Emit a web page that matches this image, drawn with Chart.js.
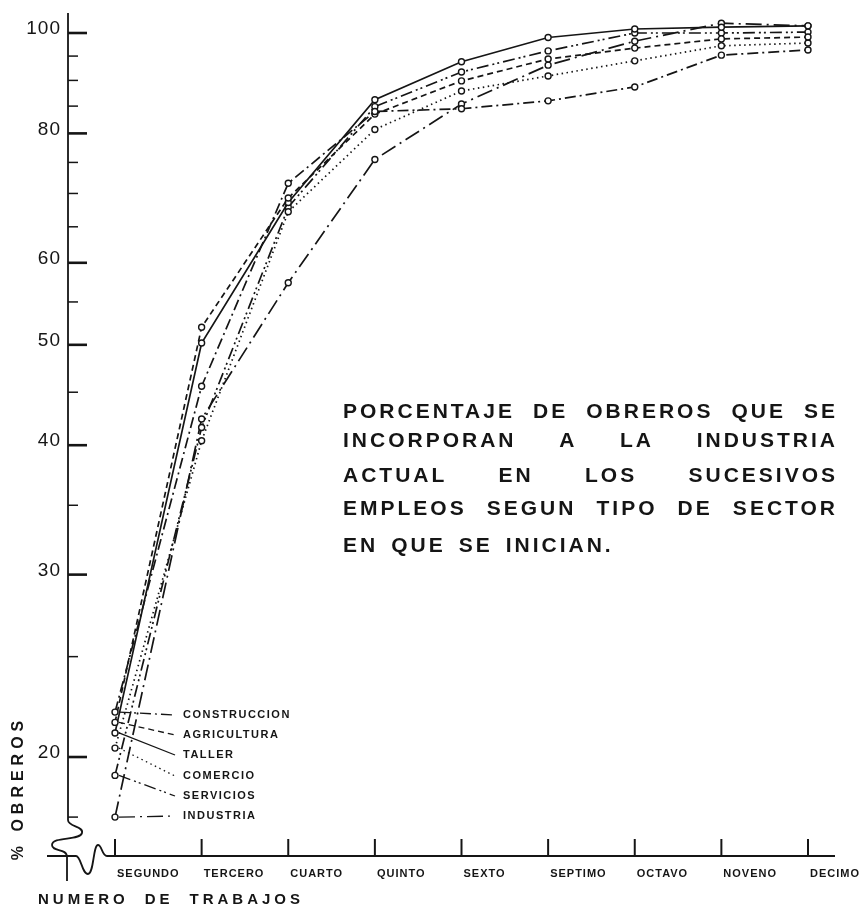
<!DOCTYPE html>
<html>
<head>
<meta charset="utf-8">
<script src="https://cdn.jsdelivr.net/npm/chart.js"></script>
<style>
  html, body { margin: 0; padding: 0; background: #fff; }
</style>
</head>
<body>
<canvas id="chart" width="864" height="911"></canvas>
<script>
// job number categories (x) and cumulative % of workers per starting sector
var trabajos = ['SEGUNDO', 'TERCERO', 'CUARTO', 'QUINTO', 'SEXTO', 'SEPTIMO', 'OCTAVO', 'NOVENO', 'DECIMO'];
var construccion = [22.1, 45.6, 71.6, 84.0, 84.5, 86.0, 88.7, 95.2, 96.3];
var agricultura  = [21.6, 52.0, 69.3, 83.5, 89.9, 94.4, 96.7, 98.7, 99.1];
var taller       = [21.1, 50.2, 68.6, 86.2, 93.8, 99.0, 100.9, 101.3, 101.6];
var comercio     = [20.4, 40.4, 67.2, 80.7, 87.9, 90.9, 94.0, 97.2, 97.8];
var servicios    = [19.2, 41.6, 67.9, 84.9, 91.7, 96.1, 100.0, 100.0, 100.2];
var industria    = [17.5, 42.4, 57.4, 75.5, 85.4, 93.1, 98.2, 102.2, 101.6];

var yTicks = [17.5, 20, 25, 30, 35, 40, 45, 50, 55, 60, 65, 70, 75, 80, 85, 90, 95, 100];
var yLabels = [20, 30, 40, 50, 60, 80, 100];

var titulo = [
  'PORCENTAJE DE OBREROS QUE SE',
  'INCORPORAN A LA INDUSTRIA',
  'ACTUAL EN LOS SUCESIVOS',
  'EMPLEOS SEGUN TIPO DE SECTOR',
  'EN QUE SE INICIAN.'
];

function serie(nombre, valores, dash) {
  return {
    label: nombre,
    data: valores.map(function (v, i) { return { x: i + 2, y: v }; }),
    borderColor: '#151515',
    borderWidth: 1.7,
    borderDash: dash,
    pointRadius: 3,
    pointBorderWidth: 1.4,
    pointBackgroundColor: '#fff',
    pointBorderColor: '#151515',
    tension: 0,
    fill: false,
    clip: false
  };
}

var datasets = [
  serie('CONSTRUCCION', construccion, [11, 4, 2, 4]),
  serie('AGRICULTURA', agricultura, [6, 4]),
  serie('TALLER', taller, []),
  serie('COMERCIO', comercio, [1.5, 3.5]),
  serie('SERVICIOS', servicios, [12, 4, 2, 3, 2, 4]),
  serie('INDUSTRIA', industria, [16, 5, 2, 5])
];

var legendY = [715, 735, 755, 776, 796, 816];

// draws the hand-drawn axes, legend leaders and the text block
var dibujo = {
  id: 'dibujo',
  beforeDraw: function (chart) { chart.ctx.letterSpacing = '1px'; },
  beforeDatasetsDraw: function (chart) { chart.ctx.letterSpacing = '0px'; },
  afterDraw: function (chart) {
    var ctx = chart.ctx;
    var area = chart.chartArea;
    var xs = chart.scales.x, ys = chart.scales.y;
    ctx.save();
    ctx.strokeStyle = '#151515';
    ctx.fillStyle = '#151515';
    ctx.setLineDash([]);
    ctx.lineCap = 'butt';

    // y axis with break
    var x0 = area.left, yb = area.bottom;
    ctx.lineWidth = 1.8;
    ctx.beginPath();
    ctx.moveTo(x0, area.top + 1);
    ctx.lineTo(x0, 820);
    ctx.bezierCurveTo(x0, 827, 84, 826, 82, 833);
    ctx.bezierCurveTo(80, 841, 52, 836, 52, 845);
    ctx.bezierCurveTo(52, 852, 67, 848, 67, 857);
    ctx.lineTo(67, 881);
    ctx.stroke();

    // x axis with break
    ctx.beginPath();
    ctx.moveTo(47, yb);
    ctx.lineTo(76, yb);
    ctx.bezierCurveTo(81, yb, 82, 874, 88, 874);
    ctx.bezierCurveTo(94, 874, 93, 845, 98, 845);
    ctx.bezierCurveTo(102, 845, 102, yb, 107, yb);
    ctx.lineTo(area.right, yb);
    ctx.stroke();

    // y ticks, inside the axis
    yTicks.forEach(function (v) {
      var y = ys.getPixelForValue(v);
      var major = yLabels.indexOf(v) >= 0;
      ctx.lineWidth = major ? 2.6 : 1.5;
      ctx.beginPath();
      ctx.moveTo(x0, y);
      ctx.lineTo(x0 + (major ? 19 : 10), y);
      ctx.stroke();
    });

    // x ticks
    ctx.lineWidth = 2;
    trabajos.forEach(function (t, i) {
      var x = xs.getPixelForValue(i + 2);
      ctx.beginPath();
      ctx.moveTo(x, yb);
      ctx.lineTo(x, yb - 17);
      ctx.stroke();
    });

    // legend leaders and names
    ctx.font = 'bold 11px "Liberation Sans"';
    ctx.letterSpacing = '1.5px';
    ctx.textBaseline = 'middle';
    ctx.textAlign = 'left';
    datasets.forEach(function (ds, i) {
      var p = chart.getDatasetMeta(i).data[0];
      ctx.lineWidth = 1.3;
      ctx.setLineDash(ds.borderDash);
      ctx.beginPath();
      ctx.moveTo(p.x + 4, p.y);
      ctx.lineTo(175, legendY[i]);
      ctx.stroke();
      ctx.setLineDash([]);
      ctx.fillText(ds.label, 183, legendY[i]);
    });

    // text block, justified
    ctx.font = 'bold 21px "Liberation Sans"';
    ctx.letterSpacing = '3px';
    var tx = 343, tw = 495;
    var ty = [412, 441, 476, 509, 546];
    titulo.forEach(function (linea, i) {
      var palabras = linea.split(' ');
      var anchos = palabras.map(function (w) { return ctx.measureText(w).width; });
      var suma = anchos.reduce(function (a, b) { return a + b; }, 0);
      var hueco = i === titulo.length - 1 ? 13 : (tw - suma) / (palabras.length - 1);
      var x = tx;
      palabras.forEach(function (w, j) {
        ctx.fillText(w, x, ty[i]);
        x += anchos[j] + hueco;
      });
    });

    // axis titles
    ctx.font = 'bold 16px "Liberation Sans"';
    ctx.letterSpacing = '5px';
    ctx.save();
    ctx.translate(19, 788);
    ctx.rotate(-Math.PI / 2);
    ctx.textAlign = 'center';
    ctx.fillText('% OBREROS', 0, 0);
    ctx.restore();

    ctx.font = 'bold 15px "Liberation Sans"';
    ctx.letterSpacing = '4px';
    var pal = ['NUMERO', 'DE', 'TRABAJOS'];
    var anc = pal.map(function (w) { return ctx.measureText(w).width; });
    var gap = (266 - anc[0] - anc[1] - anc[2]) / 2;
    var px = 38;
    pal.forEach(function (w, j) {
      ctx.fillText(w, px, 900);
      px += anc[j] + gap;
    });
    ctx.restore();
  }
};

new Chart(document.getElementById('chart').getContext('2d'), {
  type: 'line',
  data: { datasets: datasets },
  options: {
    responsive: false,
    animation: false,
    layout: { padding: { top: 12, right: 29, bottom: 0, left: 0 } },
    plugins: { legend: { display: false }, tooltip: { enabled: false } },
    scales: {
      x: {
        type: 'linear',
        min: 1.4574,
        max: 10.3117,
        grid: { display: false, drawTicks: false },
        border: { display: false },
        afterBuildTicks: function (s) {
          s.ticks = trabajos.map(function (t, i) { return { value: i + 2 }; });
        },
        afterFit: function (s) { s.height = 55; s.paddingLeft = 0; s.paddingRight = 0; },
        ticks: {
          autoSkip: false, maxRotation: 0, minRotation: 0,
          align: 'start', padding: 11, labelOffset: 2, color: '#151515',
          font: { family: 'Liberation Sans', size: 11, weight: 'bold' },
          callback: function (v, i) { return trabajos[i]; }
        }
      },
      y: {
        type: 'logarithmic',
        min: 16.05,
        max: 104.78,
        grid: { display: false, drawTicks: false },
        border: { display: false },
        afterBuildTicks: function (s) {
          s.ticks = yTicks.map(function (v) { return { value: v }; });
        },
        afterFit: function (s) { s.width = 68; s.paddingTop = 0; s.paddingBottom = 0; },
        ticks: {
          autoSkip: false, padding: 7, labelOffset: -4, color: '#151515',
          font: { family: 'Liberation Sans', size: 19 },
          callback: function (v) { return yLabels.indexOf(v) >= 0 ? String(v) : ''; }
        }
      }
    }
  },
  plugins: [dibujo]
});
</script>
</body>
</html>
